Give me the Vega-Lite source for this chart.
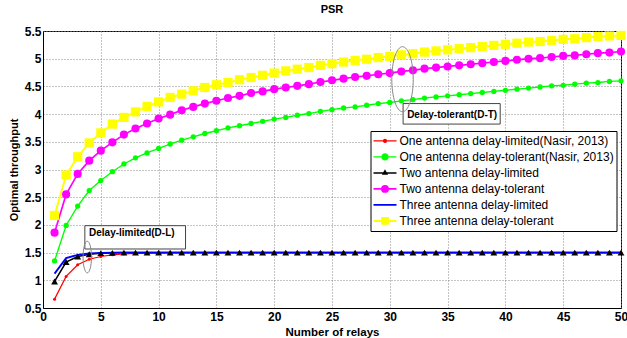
{
  "$schema": "https://vega.github.io/schema/vega-lite/v6.json",
  "width": 578,
  "height": 277,
  "autosize": "none",
  "padding": {"left": 43, "top": 31, "right": 6, "bottom": 30},
  "background": "white",
  "title": {"text": "PSR", "offset": 10, "fontSize": 11, "font": "Liberation Sans", "fontWeight": "bold", "anchor": "middle", "color": "#000"},
  "datasets": {
    "curves": [
      {"x": 1, "A": 0.66, "B": 1.35, "C": 0.98, "D": 1.86, "E": 1.12, "F": 2.17},
      {"x": 2, "A": 1.07, "B": 1.99, "C": 1.33, "D": 2.55, "E": 1.40, "F": 2.90},
      {"x": 3, "A": 1.28, "B": 2.34, "C": 1.43, "D": 2.92, "E": 1.46, "F": 3.23},
      {"x": 4, "A": 1.38, "B": 2.62, "C": 1.47, "D": 3.16, "E": 1.485, "F": 3.48},
      {"x": 5, "A": 1.43, "B": 2.80, "C": 1.49, "D": 3.34, "E": 1.495, "F": 3.66},
      {"x": 6, "A": 1.46, "B": 2.96, "C": 1.495, "D": 3.49, "E": 1.5, "F": 3.82},
      {"x": 7, "A": 1.475, "B": 3.10, "C": 1.5, "D": 3.63, "E": 1.5, "F": 3.94},
      {"x": 8, "A": 1.485, "B": 3.21, "C": 1.5, "D": 3.74, "E": 1.5, "F": 4.04},
      {"x": 9, "A": 1.49, "B": 3.30, "C": 1.5, "D": 3.83, "E": 1.5, "F": 4.14},
      {"x": 10, "A": 1.495, "B": 3.38, "C": 1.5, "D": 3.92, "E": 1.5, "F": 4.22},
      {"x": 11, "A": 1.497, "B": 3.46, "C": 1.5, "D": 3.99, "E": 1.5, "F": 4.30},
      {"x": 12, "A": 1.498, "B": 3.53, "C": 1.5, "D": 4.07, "E": 1.5, "F": 4.36},
      {"x": 13, "A": 1.499, "B": 3.59, "C": 1.5, "D": 4.13, "E": 1.5, "F": 4.42},
      {"x": 14, "A": 1.5, "B": 3.65, "C": 1.5, "D": 4.19, "E": 1.5, "F": 4.48},
      {"x": 15, "A": 1.5, "B": 3.70, "C": 1.5, "D": 4.24, "E": 1.5, "F": 4.53},
      {"x": 16, "A": 1.5, "B": 3.75, "C": 1.5, "D": 4.29, "E": 1.5, "F": 4.57},
      {"x": 17, "A": 1.5, "B": 3.79, "C": 1.5, "D": 4.33, "E": 1.5, "F": 4.62},
      {"x": 18, "A": 1.5, "B": 3.83, "C": 1.5, "D": 4.38, "E": 1.5, "F": 4.66},
      {"x": 19, "A": 1.5, "B": 3.87, "C": 1.5, "D": 4.41, "E": 1.5, "F": 4.70},
      {"x": 20, "A": 1.5, "B": 3.91, "C": 1.5, "D": 4.45, "E": 1.5, "F": 4.74},
      {"x": 21, "A": 1.5, "B": 3.94, "C": 1.5, "D": 4.48, "E": 1.5, "F": 4.78},
      {"x": 22, "A": 1.5, "B": 3.98, "C": 1.5, "D": 4.51, "E": 1.5, "F": 4.81},
      {"x": 23, "A": 1.5, "B": 4.01, "C": 1.5, "D": 4.54, "E": 1.5, "F": 4.84},
      {"x": 24, "A": 1.5, "B": 4.05, "C": 1.5, "D": 4.58, "E": 1.5, "F": 4.88},
      {"x": 25, "A": 1.5, "B": 4.08, "C": 1.5, "D": 4.61, "E": 1.5, "F": 4.91},
      {"x": 26, "A": 1.5, "B": 4.11, "C": 1.5, "D": 4.64, "E": 1.5, "F": 4.94},
      {"x": 27, "A": 1.5, "B": 4.13, "C": 1.5, "D": 4.67, "E": 1.5, "F": 4.97},
      {"x": 28, "A": 1.5, "B": 4.16, "C": 1.5, "D": 4.69, "E": 1.5, "F": 4.99},
      {"x": 29, "A": 1.5, "B": 4.19, "C": 1.5, "D": 4.72, "E": 1.5, "F": 5.02},
      {"x": 30, "A": 1.5, "B": 4.21, "C": 1.5, "D": 4.74, "E": 1.5, "F": 5.04},
      {"x": 31, "A": 1.5, "B": 4.24, "C": 1.5, "D": 4.77, "E": 1.5, "F": 5.07},
      {"x": 32, "A": 1.5, "B": 4.26, "C": 1.5, "D": 4.79, "E": 1.5, "F": 5.09},
      {"x": 33, "A": 1.5, "B": 4.29, "C": 1.5, "D": 4.82, "E": 1.5, "F": 5.12},
      {"x": 34, "A": 1.5, "B": 4.31, "C": 1.5, "D": 4.84, "E": 1.5, "F": 5.14},
      {"x": 35, "A": 1.5, "B": 4.33, "C": 1.5, "D": 4.86, "E": 1.5, "F": 5.16},
      {"x": 36, "A": 1.5, "B": 4.35, "C": 1.5, "D": 4.88, "E": 1.5, "F": 5.18},
      {"x": 37, "A": 1.5, "B": 4.37, "C": 1.5, "D": 4.90, "E": 1.5, "F": 5.20},
      {"x": 38, "A": 1.5, "B": 4.39, "C": 1.5, "D": 4.92, "E": 1.5, "F": 5.22},
      {"x": 39, "A": 1.5, "B": 4.41, "C": 1.5, "D": 4.94, "E": 1.5, "F": 5.24},
      {"x": 40, "A": 1.5, "B": 4.43, "C": 1.5, "D": 4.96, "E": 1.5, "F": 5.26},
      {"x": 41, "A": 1.5, "B": 4.45, "C": 1.5, "D": 4.98, "E": 1.5, "F": 5.28},
      {"x": 42, "A": 1.5, "B": 4.47, "C": 1.5, "D": 5.00, "E": 1.5, "F": 5.30},
      {"x": 43, "A": 1.5, "B": 4.49, "C": 1.5, "D": 5.01, "E": 1.5, "F": 5.31},
      {"x": 44, "A": 1.5, "B": 4.51, "C": 1.5, "D": 5.03, "E": 1.5, "F": 5.33},
      {"x": 45, "A": 1.5, "B": 4.52, "C": 1.5, "D": 5.05, "E": 1.5, "F": 5.35},
      {"x": 46, "A": 1.5, "B": 4.54, "C": 1.5, "D": 5.06, "E": 1.5, "F": 5.36},
      {"x": 47, "A": 1.5, "B": 4.56, "C": 1.5, "D": 5.08, "E": 1.5, "F": 5.38},
      {"x": 48, "A": 1.5, "B": 4.57, "C": 1.5, "D": 5.10, "E": 1.5, "F": 5.40},
      {"x": 49, "A": 1.5, "B": 4.59, "C": 1.5, "D": 5.11, "E": 1.5, "F": 5.41},
      {"x": 50, "A": 1.5, "B": 4.60, "C": 1.5, "D": 5.13, "E": 1.5, "F": 5.42}
    ],
    "notes": [
      {"k": "box", "x": 31.15, "x2": 39.55, "y": 3.82, "y2": 4.19},
      {"k": "box", "x": 3.62, "x2": 12.33, "y": 1.565, "y2": 1.986},
      {"k": "ellT", "x": 31.1, "y": 4.63},
      {"k": "ellL", "x": 3.83, "y": 1.42},
      {"k": "txt", "x": 31.5, "y": 3.98, "t": "Delay-tolerant(D-T)"},
      {"k": "txt", "x": 3.98, "y": 1.85, "t": "Delay-limited(D-L)"}
    ]
  },
  "config": {
    "view": {"stroke": "#000", "strokeWidth": 1},
    "axis": {
      "labelFont": "Liberation Sans", "labelFontSize": 12, "labelFontWeight": "bold", "labelColor": "#000",
      "titleFont": "Liberation Sans", "titleFontSize": 11, "titleFontWeight": "bold", "titleColor": "#000",
      "domainColor": "#000", "gridColor": "#888", "gridDash": [1, 2], "gridOpacity": 1, "gridWidth": 1,
      "ticks": false, "labelFlush": false
    }
  },
  "encoding": {
    "x": {"field": "x", "type": "quantitative", "scale": {"domain": [0, 50], "nice": false},
      "axis": {"title": "Number of relays", "values": [0, 5, 10, 15, 20, 25, 30, 35, 40, 45, 50], "labelPadding": 3, "titleBaseline": "middle", "titleY": 24, "titleFontSize": 11.5}},
    "y": {"field": "y", "type": "quantitative", "scale": {"domain": [0.5, 5.5], "nice": false, "zero": false},
      "axis": {"title": "Optimal throughput", "values": [0.5, 1, 1.5, 2, 2.5, 3, 3.5, 4, 4.5, 5, 5.5], "format": "~g", "labelPadding": 2, "titleX": -29, "titleBaseline": "middle"}}
  },
  "layer": [
    {
      "data": {"name": "curves"},
      "transform": [{"fold": ["A", "B", "C", "D", "E", "F"], "as": ["s", "y"]}],
      "mark": {"type": "line"},
      "encoding": {
        "color": {"field": "s", "type": "nominal",
          "scale": {"domain": ["A", "B", "C", "D", "E", "F"], "range": ["#ff0000", "#00ff00", "#000000", "#ff00ff", "#0000ff", "#ffff00"]},
          "legend": {
            "title": null, "orient": "none", "legendX": 327.5, "legendY": 100,
            "padding": 2, "symbolSize": 529, "labelOffset": 2, "rowPadding": 0, "clipHeight": 15.8, "labelLimit": 0,
            "labelFont": "Liberation Sans", "labelFontSize": 12, "labelColor": "#000",
            "strokeColor": "#000", "fillColor": "#ffffff",
            "labelExpr": "['One antenna delay-limited(Nasir, 2013)', 'One antenna delay-tolerant(Nasir, 2013)', 'Two antenna delay-limited', 'Two antenna delay-tolerant', 'Three antenna delay-limited', 'Three antenna delay-tolerant'][indexof(['A','B','C','D','E','F'], datum.value)]",
            "encode": {"symbols": {"update": {
              "shape": {"signal": "['M-1,0L1,0M-0.13,0A0.13,0.13 0 1,0 0.13,0A0.13,0.13 0 1,0 -0.13,0Z', 'M-1,0L1,0M-0.26,0A0.26,0.26 0 1,0 0.26,0A0.26,0.26 0 1,0 -0.26,0Z', 'M-1,0L1,0M0,-0.18L0.16,0.1L-0.16,0.1Z', 'M-1,0L1,0M-0.27,0A0.27,0.27 0 1,0 0.27,0A0.27,0.27 0 1,0 -0.27,0Z', 'M-1,0L1,0', 'M-1,0L1,0M-0.25,-0.25L0.25,-0.25L0.25,0.25L-0.25,0.25Z'][indexof(['A','B','C','D','E','F'], datum.value)]"},
              "fill": {"scale": "color", "field": "value"},
              "stroke": {"scale": "color", "field": "value"},
              "strokeWidth": {"value": 1.5},
              "opacity": {"value": 1}
            }}}
          }},
        "strokeWidth": {"field": "s", "type": "nominal", "scale": {"domain": ["A", "B", "C", "D", "E", "F"], "range": [1.2, 2, 1.2, 2, 1.6, 2]}, "legend": null}
      }
    },
    {
      "data": {"name": "curves"},
      "transform": [{"fold": ["A", "B", "C", "D", "F"], "as": ["s", "y"]}],
      "mark": {"type": "point", "filled": true, "opacity": 1},
      "encoding": {
        "color": {"field": "s", "type": "nominal"},
        "shape": {"field": "s", "type": "nominal", "scale": {"domain": ["A", "B", "C", "D", "F"], "range": ["circle", "circle", "triangle-up", "circle", "square"]}, "legend": null},
        "size": {"field": "s", "type": "nominal", "scale": {"domain": ["A", "B", "C", "D", "F"], "range": [9, 85, 22, 70, 62]}, "legend": null}
      }
    },
    {
      "data": {"name": "notes"},
      "transform": [{"filter": "datum.k == 'box'"}],
      "mark": {"type": "rect", "fill": "#ffffff", "stroke": "#444444", "strokeWidth": 1},
      "encoding": {
        "x2": {"field": "x2"},
        "y2": {"field": "y2"}
      }
    },
    {
      "data": {"name": "notes"},
      "transform": [{"filter": "datum.k == 'ellT'"}],
      "mark": {"type": "point", "shape": "M0,-1A0.33,1 0 1,1 0,1A0.33,1 0 1,1 0,-1Z", "size": 4225, "filled": false, "stroke": "#888888", "strokeWidth": 1, "opacity": 1}
    },
    {
      "data": {"name": "notes"},
      "transform": [{"filter": "datum.k == 'ellL'"}],
      "mark": {"type": "point", "shape": "M0,-1A0.265,1 0 1,1 0,1A0.265,1 0 1,1 0,-1Z", "size": 1005, "filled": false, "stroke": "#888888", "strokeWidth": 1, "opacity": 1}
    },
    {
      "data": {"name": "notes"},
      "transform": [{"filter": "datum.k == 'txt'"}],
      "mark": {"type": "text", "align": "left", "baseline": "middle", "font": "Liberation Sans", "fontSize": 10, "fontWeight": "bold", "color": "#000"},
      "encoding": {
        "text": {"field": "t"}
      }
    }
  ]
}
